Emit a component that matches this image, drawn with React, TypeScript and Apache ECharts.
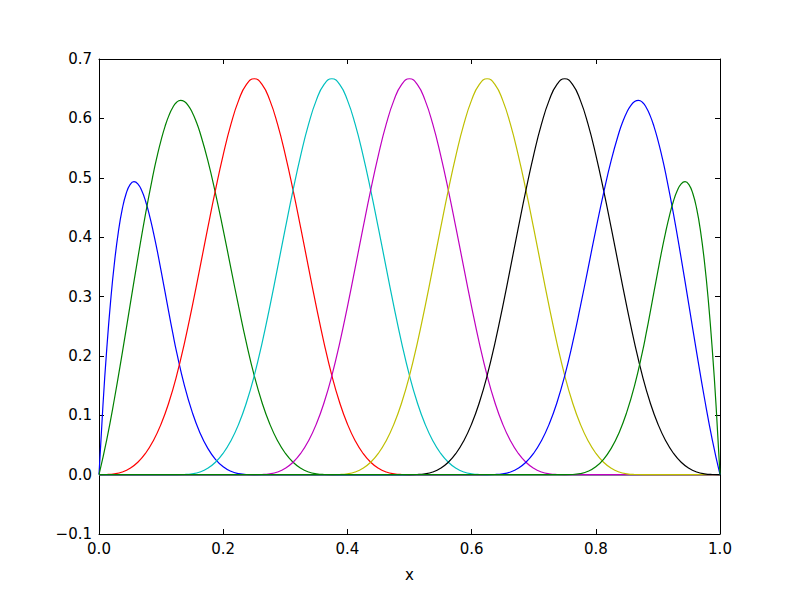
import React, { useEffect, useRef } from "react";
import * as echarts from "echarts";

// shared x grid for the five interior curves
const xValues = [
  0, 0.0125, 0.025, 0.0375, 0.05, 0.0625, 0.075, 0.0875, 0.1, 0.1125,
  0.125, 0.1375, 0.15, 0.1625, 0.175, 0.1875, 0.2, 0.2125, 0.225, 0.2375,
  0.25, 0.2625, 0.275, 0.2875, 0.3, 0.3125, 0.325, 0.3375, 0.35, 0.3625,
  0.375, 0.3875, 0.4, 0.4125, 0.425, 0.4375, 0.45, 0.4625, 0.475, 0.4875,
  0.5, 0.5125, 0.525, 0.5375, 0.55, 0.5625, 0.575, 0.5875, 0.6, 0.6125,
  0.625, 0.6375, 0.65, 0.6625, 0.675, 0.6875, 0.7, 0.7125, 0.725, 0.7375,
  0.75, 0.7625, 0.775, 0.7875, 0.8, 0.8125, 0.825, 0.8375, 0.85, 0.8625,
  0.875, 0.8875, 0.9, 0.9125, 0.925, 0.9375, 0.95, 0.9625, 0.975, 0.9875,
  1,
];

// boundary curves (own x samples, denser near their peaks)
const curve1X = [
  0, 0.00625, 0.0125, 0.01875, 0.025, 0.03125, 0.0375, 0.04375, 0.05, 0.05625,
  0.0625, 0.06875, 0.075, 0.08125, 0.0875, 0.09375, 0.1, 0.10625, 0.1125, 0.11875,
  0.125, 0.1375, 0.15, 0.1625, 0.175, 0.1875, 0.2, 0.2125, 0.225, 0.2375,
  0.25, 1,
];
const curve1 = [
  0, 0.1147, 0.2118, 0.2926, 0.3581, 0.4093, 0.4474, 0.4734, 0.4884, 0.4935,
  0.4898, 0.4784, 0.4604, 0.4367, 0.4086, 0.3771, 0.3432, 0.3081, 0.2729, 0.2386,
  0.2063, 0.1504, 0.1056, 0.0707, 0.0446, 0.0258, 0.0132, 0.0056, 0.0017, 0.0002,
  0, 0,
];

const curve2X = [
  0, 0.0125, 0.025, 0.0375, 0.05, 0.0625, 0.075, 0.0875,
  0.09375, 0.1, 0.10625, 0.1125, 0.11875, 0.125, 0.13125, 0.1375, 0.14375, 0.15, 0.15625, 0.1625,
  0.175, 0.1875, 0.2, 0.2125, 0.225, 0.2375, 0.25, 0.2625, 0.275, 0.2875,
  0.3, 0.3125, 0.325, 0.3375, 0.35, 0.3625, 0.375, 1,
];
const curve2 = [
  0, 0.059, 0.1286, 0.2051, 0.2849, 0.3643, 0.4397, 0.5073,
  0.537, 0.5635, 0.5862, 0.6046, 0.6184, 0.6271, 0.6303, 0.6283, 0.6216, 0.6104, 0.5953, 0.5766,
  0.5301, 0.4742, 0.4121, 0.3471, 0.2824, 0.2211, 0.1667, 0.1215, 0.0853, 0.0572,
  0.036, 0.0208, 0.0107, 0.0045, 0.0013, 0.0002, 0, 0,
];

const curve3 = [
  0, 0.0002, 0.0013, 0.0045, 0.0107, 0.0208, 0.036, 0.0572, 0.0853, 0.1215,
  0.1667, 0.2212, 0.2827, 0.3482, 0.4147, 0.4792, 0.5387, 0.5902, 0.6307, 0.6572,
  0.6667, 0.6572, 0.6307, 0.5902, 0.5387, 0.4792, 0.4147, 0.3482, 0.2827, 0.2212,
  0.1667, 0.1215, 0.0853, 0.0572, 0.036, 0.0208, 0.0107, 0.0045, 0.0013, 0.0002,
  0, 0, 0, 0, 0, 0, 0, 0, 0, 0,
  0, 0, 0, 0, 0, 0, 0, 0, 0, 0,
  0, 0, 0, 0, 0, 0, 0, 0, 0, 0,
  0, 0, 0, 0, 0, 0, 0, 0, 0, 0,
  0,
];

const curve4 = [
  0, 0, 0, 0, 0, 0, 0, 0, 0, 0,
  0, 0.0002, 0.0013, 0.0045, 0.0107, 0.0208, 0.036, 0.0572, 0.0853, 0.1215,
  0.1667, 0.2212, 0.2827, 0.3482, 0.4147, 0.4792, 0.5387, 0.5902, 0.6307, 0.6572,
  0.6667, 0.6572, 0.6307, 0.5902, 0.5387, 0.4792, 0.4147, 0.3482, 0.2827, 0.2212,
  0.1667, 0.1215, 0.0853, 0.0572, 0.036, 0.0208, 0.0107, 0.0045, 0.0013, 0.0002,
  0, 0, 0, 0, 0, 0, 0, 0, 0, 0,
  0, 0, 0, 0, 0, 0, 0, 0, 0, 0,
  0, 0, 0, 0, 0, 0, 0, 0, 0, 0,
  0,
];

const curve5 = [
  0, 0, 0, 0, 0, 0, 0, 0, 0, 0,
  0, 0, 0, 0, 0, 0, 0, 0, 0, 0,
  0, 0.0002, 0.0013, 0.0045, 0.0107, 0.0208, 0.036, 0.0572, 0.0853, 0.1215,
  0.1667, 0.2212, 0.2827, 0.3482, 0.4147, 0.4792, 0.5387, 0.5902, 0.6307, 0.6572,
  0.6667, 0.6572, 0.6307, 0.5902, 0.5387, 0.4792, 0.4147, 0.3482, 0.2827, 0.2212,
  0.1667, 0.1215, 0.0853, 0.0572, 0.036, 0.0208, 0.0107, 0.0045, 0.0013, 0.0002,
  0, 0, 0, 0, 0, 0, 0, 0, 0, 0,
  0, 0, 0, 0, 0, 0, 0, 0, 0, 0,
  0,
];

const curve6 = [
  0, 0, 0, 0, 0, 0, 0, 0, 0, 0,
  0, 0, 0, 0, 0, 0, 0, 0, 0, 0,
  0, 0, 0, 0, 0, 0, 0, 0, 0, 0,
  0, 0.0002, 0.0013, 0.0045, 0.0107, 0.0208, 0.036, 0.0572, 0.0853, 0.1215,
  0.1667, 0.2212, 0.2827, 0.3482, 0.4147, 0.4792, 0.5387, 0.5902, 0.6307, 0.6572,
  0.6667, 0.6572, 0.6307, 0.5902, 0.5387, 0.4792, 0.4147, 0.3482, 0.2827, 0.2212,
  0.1667, 0.1215, 0.0853, 0.0572, 0.036, 0.0208, 0.0107, 0.0045, 0.0013, 0.0002,
  0, 0, 0, 0, 0, 0, 0, 0, 0, 0,
  0,
];

const curve7 = [
  0, 0, 0, 0, 0, 0, 0, 0, 0, 0,
  0, 0, 0, 0, 0, 0, 0, 0, 0, 0,
  0, 0, 0, 0, 0, 0, 0, 0, 0, 0,
  0, 0, 0, 0, 0, 0, 0, 0, 0, 0,
  0, 0.0002, 0.0013, 0.0045, 0.0107, 0.0208, 0.036, 0.0572, 0.0853, 0.1215,
  0.1667, 0.2212, 0.2827, 0.3482, 0.4147, 0.4792, 0.5387, 0.5902, 0.6307, 0.6572,
  0.6667, 0.6572, 0.6307, 0.5902, 0.5387, 0.4792, 0.4147, 0.3482, 0.2827, 0.2212,
  0.1667, 0.1215, 0.0853, 0.0572, 0.036, 0.0208, 0.0107, 0.0045, 0.0013, 0.0002,
  0,
];

const curve8X = [
  0, 0.625, 0.6375, 0.65, 0.6625, 0.675, 0.6875, 0.7, 0.7125, 0.725,
  0.7375, 0.75, 0.7625, 0.775, 0.7875, 0.8, 0.8125, 0.825,
  0.8375, 0.84375, 0.85, 0.85625, 0.8625, 0.86875, 0.875, 0.88125, 0.8875, 0.89375, 0.9, 0.90625,
  0.9125, 0.925, 0.9375, 0.95, 0.9625, 0.975, 0.9875, 1,
];
const curve8 = [
  0, 0, 0.0002, 0.0013, 0.0045, 0.0107, 0.0208, 0.036, 0.0572, 0.0853,
  0.1215, 0.1667, 0.2211, 0.2824, 0.3471, 0.4121, 0.4742, 0.5301,
  0.5766, 0.5953, 0.6104, 0.6216, 0.6283, 0.6303, 0.6271, 0.6184, 0.6046, 0.5862, 0.5635, 0.537,
  0.5073, 0.4397, 0.3643, 0.2849, 0.2051, 0.1286, 0.059, 0,
];

const curve9X = [
  0, 0.75, 0.7625, 0.775, 0.7875, 0.8, 0.8125, 0.825, 0.8375, 0.85,
  0.8625, 0.875, 0.88125, 0.8875, 0.89375, 0.9, 0.90625, 0.9125, 0.91875, 0.925,
  0.93125, 0.9375, 0.94375, 0.95, 0.95625, 0.9625, 0.96875, 0.975, 0.98125, 0.9875,
  0.99375, 1,
];
const curve9 = [
  0, 0, 0.0002, 0.0017, 0.0056, 0.0132, 0.0258, 0.0446, 0.0707, 0.1056,
  0.1504, 0.2063, 0.2386, 0.2729, 0.3081, 0.3432, 0.3771, 0.4086, 0.4367, 0.4604,
  0.4784, 0.4898, 0.4935, 0.4884, 0.4734, 0.4474, 0.4093, 0.3581, 0.2926, 0.2118,
  0.1147, 0,
];

const curveXs = [curve1X, curve2X, xValues, xValues, xValues, xValues, xValues, curve8X, curve9X];
const curves = [curve1, curve2, curve3, curve4, curve5, curve6, curve7, curve8, curve9];
const colors = ["#0000ff", "#008000", "#ff0000", "#00bfbf", "#bf00bf", "#bfbf00", "#000000", "#0000ff", "#008000"];

const xTicks = { min: 0, max: 1, interval: 0.2 };
const yTicks = { min: -0.1, max: 0.7, interval: 0.1 };
const xLabel = "x";

const FONT = "DejaVu Sans";

function fmt(v: number): string {
  const r = Math.round(v * 10) / 10;
  if (r < 0) return "\u2212" + Math.abs(r).toFixed(1);
  return r.toFixed(1);
}

export default function App() {
  const ref = useRef<HTMLDivElement>(null);
  useEffect(() => {
    if (!ref.current) return;
    const chart = echarts.init(ref.current, undefined, { renderer: "svg" });
    const tickStyle = { color: "#000", width: 1 };
    const option: any = {
      animation: false,
      backgroundColor: "#ffffff",
      grid: { left: 99, right: 80, top: 59, bottom: 59, containLabel: false },
      xAxis: [
        {
          type: "value",
          min: xTicks.min,
          max: xTicks.max,
          interval: xTicks.interval,
          position: "bottom",
          name: xLabel,
          nameLocation: "middle",
          nameGap: 33,
          nameTextStyle: { color: "#000", fontSize: 15, fontFamily: FONT },
          axisLine: { show: true, onZero: false, lineStyle: { color: "#000", width: 1 } },
          axisTick: { show: true, inside: true, length: 5, lineStyle: tickStyle },
          axisLabel: { show: true, formatter: fmt, color: "#000", fontSize: 15, fontFamily: FONT, margin: 7 },
          splitLine: { show: false },
        },
        {
          type: "value",
          min: xTicks.min,
          max: xTicks.max,
          interval: xTicks.interval,
          position: "top",
          axisLine: { show: true, onZero: false, lineStyle: { color: "#000", width: 1 } },
          axisTick: { show: true, inside: true, length: 5, lineStyle: tickStyle },
          axisLabel: { show: false },
          splitLine: { show: false },
        },
      ],
      yAxis: [
        {
          type: "value",
          min: yTicks.min,
          max: yTicks.max,
          interval: yTicks.interval,
          position: "left",
          axisLine: { show: true, onZero: false, lineStyle: { color: "#000", width: 1 } },
          axisTick: { show: true, inside: true, length: 5, lineStyle: tickStyle },
          axisLabel: { show: true, formatter: fmt, color: "#000", fontSize: 15, fontFamily: FONT, margin: 7 },
          splitLine: { show: false },
        },
        {
          type: "value",
          min: yTicks.min,
          max: yTicks.max,
          interval: yTicks.interval,
          position: "right",
          axisLine: { show: true, onZero: false, lineStyle: { color: "#000", width: 1 } },
          axisTick: { show: true, inside: true, length: 5, lineStyle: tickStyle },
          axisLabel: { show: false },
          splitLine: { show: false },
        },
      ],
      series: curves.map((c, i) => ({
        type: "line",
        xAxisIndex: 0,
        yAxisIndex: 0,
        data: curveXs[i].map((xv, j) => [xv, c[j]]),
        showSymbol: false,
        symbol: "none",
        smooth: 0.5,
        clip: true,
        lineStyle: { color: colors[i], width: 1.2 },
        itemStyle: { color: colors[i] },
        emphasis: { disabled: true },
        z: 2 + i * 0.01,
      })),
    };
    chart.setOption(option);
    return () => chart.dispose();
  }, []);
  return (
    <div
      ref={ref}
      style={{ position: "absolute", left: 0, top: 0, width: 800, height: 593, background: "#fff" }}
    />
  );
}
